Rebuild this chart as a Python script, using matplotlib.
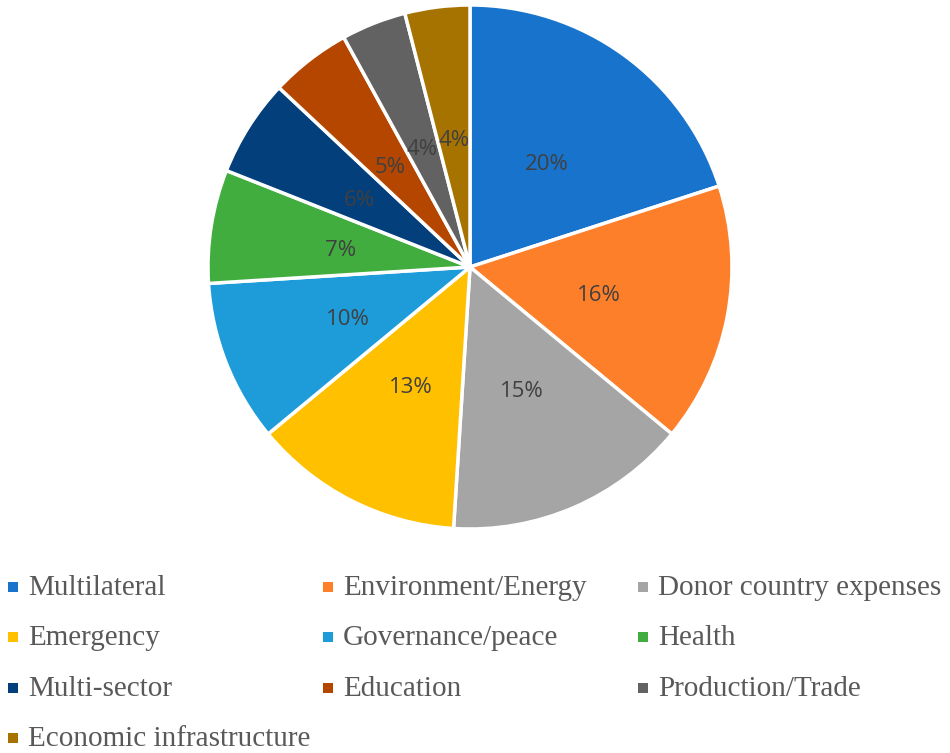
import matplotlib.pyplot as plt
from matplotlib.patches import Rectangle

sectors = ["Multilateral", "Environment/Energy", "Donor country expenses",
           "Emergency", "Governance/peace", "Health",
           "Multi-sector", "Education", "Production/Trade",
           "Economic infrastructure"]
shares = [20, 16, 15, 13, 10, 7, 6, 5, 4, 4]
colors = ["#1873CC", "#FD7F2A", "#A5A5A5", "#FFC000", "#1E9CDA",
          "#41AD3E", "#033F7B", "#B54600", "#626262", "#A67300"]

W, H = 950, 753
fig = plt.figure(figsize=(W / 100, H / 100), dpi=100)

# pie axes: centre (470, 267), radius 262 px
cx, cy, r = 470, 267, 262
ax = fig.add_axes([(cx - r) / W, 1 - (cy + r) / H, 2 * r / W, 2 * r / H])
wedges, texts = ax.pie(shares, colors=colors, startangle=90, counterclock=False,
                       labels=[f"{s}%" for s in shares], labeldistance=0.5,
                       wedgeprops=dict(edgecolor="white", linewidth=2.5),
                       textprops=dict(fontsize=16, color="#404040",
                                      family="Open Sans"))
for t in texts:
    t.set_ha("center")
    t.set_va("center")
    t.set_y(t.get_position()[1] - 0.015)
ax.set_aspect("equal")
ax.set_xlim(-1, 1)
ax.set_ylim(-1, 1)

# legend in three fixed-width columns
col_x = [8, 323, 638]
row_y = [587, 637, 688, 738]
for i, (name, c) in enumerate(zip(sectors, colors)):
    x = col_x[i % 3]
    y = row_y[i // 3]
    fig.patches.append(Rectangle((x / W, 1 - (y + 5) / H), 10 / W, 10 / H,
                                 transform=fig.transFigure, facecolor=c,
                                 edgecolor="none"))
    fig.text((x + 20) / W, 1 - (y + 1) / H, name, fontsize=21, color="#595959",
             family="Liberation Serif", va="center", ha="left")

fig.savefig("out.png", dpi=100)
